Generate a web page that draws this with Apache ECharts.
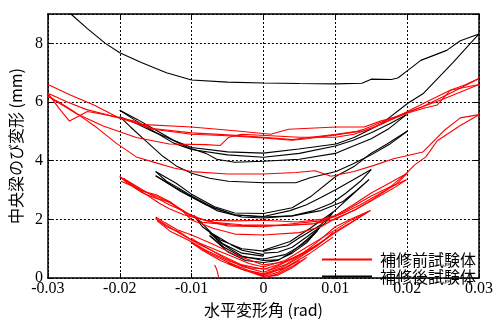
<!DOCTYPE html>
<html>
<head>
<meta charset="utf-8">
<script src="https://cdn.jsdelivr.net/npm/echarts@6/dist/echarts.min.js"></script>
<style>
  html, body { margin: 0; padding: 0; background: #fff; }
  #main { width: 496px; height: 323px; }
</style>
</head>
<body>
<div id="main"></div>
<script>
// x: 水平変形角 (rad), y: 中央梁のび変形 (mm)
var xTicks = [-0.03, -0.02, -0.01, 0, 0.01, 0.02, 0.03];
var yTicks = [0, 2, 4, 6, 8];

// 補修後試験体 (black)
var b30 = [[-0.0275,9.2],[-0.0268,9.0],[-0.0245,8.5],[-0.022,8.0],[-0.02,7.68],[-0.017,7.35],[-0.0135,7.0],[-0.01,6.75],[-0.005,6.68],[0,6.65],[0.005,6.63],[0.01,6.62],[0.0137,6.64],[0.015,6.78],[0.0178,6.77],[0.0187,6.82],[0.02,7.06],[0.0219,7.42],[0.0255,7.76],[0.0274,8.09],[0.03,8.32],[0.0264,7.35],[0.0223,6.3],[0.0201,5.96],[0.0163,5.24],[0.0126,4.79],[0.0101,4.57],[0.0049,4.4],[0,4.26],[-0.005,4.3],[-0.01,4.45],[-0.0125,4.7],[-0.015,5.05],[-0.0175,5.4],[-0.02,5.72]];
var b20a = [[-0.02,5.72],[-0.018,5.4],[-0.0154,5.02],[-0.0125,4.6],[-0.01,4.38],[-0.005,4.2],[0,4.12],[0.005,4.25],[0.01,4.5],[0.0125,4.7],[0.015,4.95],[0.0175,5.25],[0.0199,5.57]];
var b20b = [[0.0199,5.57],[0.0175,5.1],[0.015,4.75],[0.012,4.45],[0.01,4.25],[0.005,4.05],[0,3.98],[-0.004,3.95],[-0.0065,4.05],[-0.008,4.25],[-0.0105,4.45],[-0.0135,4.8],[-0.0154,5.0],[-0.018,5.3],[-0.02,5.5]];
var b20c = [[-0.02,5.5],[-0.0185,5.15],[-0.0165,4.7],[-0.014,4.15],[-0.012,3.8],[-0.01,3.57],[-0.0075,3.4],[-0.0049,3.3],[0,3.25],[0.0045,3.25],[0.0065,3.42],[0.0101,3.63],[0.0125,3.9],[0.015,4.2],[0.0175,4.55],[0.0201,5.02]];
var b20d = [[0.0201,5.02],[0.0172,4.57],[0.0149,4.24],[0.0126,3.8],[0.0101,3.47],[0.0067,2.8],[0.004,2.4],[0,2.2],[-0.004,2.22],[-0.0068,2.43],[-0.01,2.86],[-0.0122,3.24],[-0.015,3.63]];
var b15a = [[-0.015,3.63],[-0.0135,3.3],[-0.012,3.1],[-0.01,2.8],[-0.0068,2.38],[-0.004,2.16],[0,2.1],[0.0037,2.3],[0.006,2.5],[0.008,2.75],[0.0101,3.02],[0.0125,3.35],[0.015,3.7]];
var b15b = [[0.015,3.7],[0.0135,3.3],[0.0115,2.9],[0.0095,2.55],[0.007,2.3],[0.004,2.12],[0,2.05],[-0.003,2.08],[-0.0065,2.3],[-0.0095,2.7],[-0.012,3.05],[-0.015,3.49]];
var b15c = [[0,0.95],[0.0037,1.25],[0.0065,1.7],[0.0097,2.25],[0.0122,2.8],[0.0147,3.36],[0.013,3.0],[0.011,2.6],[0.008,2.3],[0.004,2.12],[0,2.08],[-0.004,2.15],[-0.008,2.5],[-0.0115,2.95],[-0.015,3.49]];
var b10 = [[0,0.8],[-0.003,0.95],[-0.0045,1.14],[-0.0072,1.53],[-0.0097,2.14],[-0.0085,1.75],[-0.006,1.3],[-0.003,1.0],[0,0.92],[0.0033,1.1],[0.0049,1.36],[0.0079,1.8],[0.0097,2.25],[0.0085,1.85],[0.006,1.4],[0.004,1.05],[0.002,0.88],[0,0.85]];
var b075 = [[0,0.75],[-0.003,0.85],[-0.0055,1.15],[-0.0075,1.54],[-0.006,1.2],[-0.003,0.75],[0,0.6],[0.002,0.62],[0.004,0.85],[0.006,1.2],[0.0078,1.7],[0.006,1.3],[0.004,0.9],[0.002,0.6],[0,0.53],[-0.0025,0.6],[-0.005,0.9],[-0.0075,1.45]];
var b05 = [[-0.0075,1.45],[-0.0055,1.05],[-0.003,0.72],[0,0.65],[0.003,0.8],[0.0055,1.15],[0.0075,1.6]];

// 補修前試験体 (red)
var r30a = [[-0.03,6.6],[-0.0268,6.23],[-0.0236,5.9],[-0.02,5.45],[-0.0172,5.24],[-0.01,5.15],[-0.004,5.02],[0.001,4.9],[0.0035,5.07],[0.0101,5.15],[0.014,5.15],[0.0163,5.35],[0.0186,5.51],[0.0222,5.85],[0.026,6.3],[0.03,6.8]];
var r30b = [[0.03,6.8],[0.028,6.58],[0.026,6.4],[0.0235,6.1],[0.021,5.8],[0.0186,5.5],[0.0165,5.25],[0.014,5.02],[0.0101,4.88],[0.006,4.75],[0.004,4.7],[0,4.78],[-0.005,4.85],[-0.01,4.9],[-0.0154,5.07],[-0.019,5.4],[-0.022,5.57],[-0.0245,5.68],[-0.027,5.35],[-0.0285,5.8],[-0.03,6.3]];
var r30c = [[-0.03,6.3],[-0.0273,6.0],[-0.0247,5.75],[-0.0215,5.55],[-0.018,5.35],[-0.0154,5.1],[-0.01,4.95],[-0.005,4.88],[0,4.8],[0.004,4.72],[0.0101,4.9],[0.013,5.0],[0.014,5.07],[0.0163,5.3],[0.02,5.65],[0.0245,6.05],[0.026,6.2],[0.03,6.6]];
var r30d = [[0.03,6.6],[0.026,6.4],[0.0242,5.9],[0.0223,5.79],[0.02,5.62],[0.0173,5.35],[0.015,5.1],[0.0126,4.9],[0.01,4.8],[0.005,4.8],[0.001,4.85],[-0.0031,4.9],[-0.0049,4.79],[-0.006,4.52],[-0.008,4.55],[-0.0131,4.57],[-0.0177,4.79],[-0.0223,5.18],[-0.026,5.6],[-0.03,6.2]];
var r30e = [[-0.03,6.2],[-0.0285,6.0],[-0.0268,5.75],[-0.0232,5.13],[-0.0205,4.6],[-0.0177,4.13],[-0.0154,3.96],[-0.0125,3.75],[-0.01,3.63],[-0.005,3.55],[0,3.55],[0.0045,3.6],[0.0072,3.66],[0.0094,3.47],[0.0126,3.63],[0.0155,3.85],[0.0181,4.07],[0.0222,4.3],[0.0251,5.02],[0.0274,5.46],[0.03,5.57]];
var r30f = [[0.03,5.57],[0.0274,5.2],[0.0242,4.68],[0.0226,4.13],[0.021,3.85],[0.0199,3.57],[0.0173,3.03],[0.015,2.65],[0.0125,2.3],[0.01,2.0],[0.007,1.85],[0.004,1.8],[0,1.78],[-0.004,1.8],[-0.0085,1.9],[-0.0113,2.3],[-0.013,2.6],[-0.015,2.85],[-0.0168,2.95],[-0.02,3.46]];
var r20a = [[-0.02,3.46],[-0.019,3.25],[-0.0168,2.9],[-0.015,2.72],[-0.0131,2.6],[-0.012,2.4],[-0.01,2.1],[-0.007,1.9],[-0.003,1.82],[0.003,1.8],[0.007,1.85],[0.01,2.1],[0.0125,2.45],[0.015,2.8],[0.0175,3.1],[0.0199,3.35]];
var r20b = [[0.0199,3.35],[0.018,3.05],[0.0155,2.7],[0.013,2.35],[0.0101,2.05],[0.008,1.75],[0.005,1.55],[0,1.47],[-0.004,1.5],[-0.007,1.7],[-0.01,1.98],[-0.0113,2.3],[-0.0131,2.5],[-0.015,2.75],[-0.0168,3.0],[-0.0195,3.4]];
var r20c = [[-0.0195,3.4],[-0.018,3.1],[-0.016,2.8],[-0.0145,2.55],[-0.0131,2.36],[-0.011,2.15],[-0.008,1.97],[-0.004,1.95],[0,1.97],[0.0047,1.91],[0.008,2.0],[0.0101,2.14],[0.0125,2.5],[0.015,2.9],[0.018,3.3],[0.02,3.57]];
var r20d = [[0.02,3.57],[0.0185,3.2],[0.016,2.85],[0.0135,2.5],[0.011,2.2],[0.008,1.95],[0.004,1.85],[0,1.75],[-0.005,1.78],[-0.0085,2.0],[-0.0105,2.2],[-0.0125,2.5],[-0.0145,2.75],[-0.017,3.0],[-0.0198,3.3]];
var r15a = [[-0.015,2.08],[-0.0138,1.9],[-0.012,1.65],[-0.01,1.47],[-0.007,1.15],[-0.004,0.8],[0,0.45],[0.003,0.55],[0.0055,0.85],[0.0076,1.25],[0.01,1.75],[0.0125,2.05],[0.0149,2.3]];
var r15b = [[0.0149,2.3],[0.0125,1.95],[0.0101,1.6],[0.008,1.2],[0.005,0.8],[0.002,0.45],[0,0.3],[-0.003,0.45],[-0.006,0.8],[-0.009,1.15],[-0.0115,1.5],[-0.0135,1.8],[-0.015,2.03]];
var r15c = [[-0.015,2.03],[-0.0135,1.75],[-0.0115,1.55],[-0.01,1.3],[-0.0075,1.05],[-0.0045,0.75],[-0.002,0.5],[0,0.38],[0.003,0.6],[0.006,1.05],[0.0097,1.6],[0.012,1.95],[0.0145,2.25]];
var r15d = [[0.0145,2.25],[0.012,1.85],[0.0097,1.5],[0.007,1.05],[0.004,0.65],[0.001,0.3],[-0.002,0.35],[-0.005,0.6],[-0.008,0.95],[-0.0105,1.3],[-0.013,1.6],[-0.0148,1.95]];
var r10a = [[-0.01,1.35],[-0.008,1.05],[-0.0055,0.7],[-0.003,0.4],[0,0.2],[0.003,0.45],[0.006,0.9],[0.0085,1.3],[0.0097,1.55]];
var r10b = [[0.0097,1.55],[0.0075,1.1],[0.005,0.7],[0.0025,0.35],[0,0.15],[-0.003,0.3],[-0.006,0.6],[-0.0085,0.95],[-0.01,1.2]];
var r10c = [[-0.01,1.2],[-0.0075,0.85],[-0.005,0.55],[-0.002,0.25],[0,0.12],[0.003,0.35],[0.0065,0.85],[0.0097,1.4]];
var r05 = [[-0.005,0.55],[-0.003,0.3],[0,0.05],[0.002,0.2],[0.005,0.6],[0.003,0.35],[0,0.1],[-0.0025,0.25],[-0.005,0.5]];
var r00 = [[0,0],[0.002,0.15],[0.004,0.4],[0.006,0.7],[0.004,0.35],[0.002,0.1],[0,0.02]];
var rSpike = [[-0.0068,0.45],[-0.0065,0.3],[-0.0062,0.0]];

var blackLoops = [b30, b20a, b20b, b20c, b20d, b15a, b15b, b15c, b10, b075, b05];
var redLoops = [r30a, r30b, r30c, r30d, r30e, r30f, r20a, r20b, r20c, r20d, r15a, r15b, r15c, r15d, r10a, r10b, r10c, r05, r00, rSpike];

var nameBefore = '補修前試験体';
var nameAfter = '補修後試験体';

function loopSeries(loops, name, color) {
    return loops.map(function (d) {
        return {
            name: name,
            type: 'line',
            data: d,
            symbol: 'none',
            silent: true,
            lineStyle: { color: color, width: 1.1 },
            itemStyle: { color: color }
        };
    });
}

var chart = echarts.init(document.getElementById('main'));
var tickFont = { fontFamily: '"Liberation Serif", serif', fontSize: 16, color: '#000' };
var dotted = { color: '#000', width: 1, type: [2, 2] };
var frame = { color: '#000', width: 1.5 };
var tickIn = { show: true, inside: true, length: 5, lineStyle: { color: '#000' } };

var option = {
    backgroundColor: '#fff',
    animation: false,
    grid: { left: 43, right: 14, top: 14, bottom: 39 },
    legend: {
        data: [
            { name: nameBefore, icon: 'rect', itemStyle: { color: '#ff0000' } },
            { name: nameAfter, icon: 'rect', itemStyle: { color: '#000000' } }
        ],
        orient: 'vertical',
        left: 322,
        top: 251,
        padding: 0,
        itemWidth: 50,
        itemHeight: 2,
        itemGap: 0,
        textStyle: { fontFamily: 'Noto Sans CJK JP', fontSize: 16, lineHeight: 17, color: '#000', padding: [0, 0, 0, 3] }
    },
    xAxis: [{
        type: 'value',
        min: xTicks[0],
        max: xTicks[xTicks.length - 1],
        interval: 0.01,
        name: '水平変形角 (rad)',
        nameLocation: 'middle',
        nameGap: 20,
        nameTextStyle: { fontFamily: 'Noto Sans CJK JP', fontSize: 16, color: '#000', verticalAlign: 'top' },
        axisLine: { show: true, onZero: false, lineStyle: frame },
        axisTick: tickIn,
        axisLabel: Object.assign({ margin: 3 }, tickFont),
        splitLine: { show: true, lineStyle: dotted }
    }, {
        type: 'value',
        position: 'top',
        min: xTicks[0],
        max: xTicks[xTicks.length - 1],
        interval: 0.01,
        axisLine: { show: true, onZero: false, lineStyle: frame },
        axisTick: tickIn,
        axisLabel: { show: false },
        splitLine: { show: false }
    }],
    yAxis: [{
        type: 'value',
        min: yTicks[0],
        max: 9,
        interval: 2,
        name: '中央梁のび変形 (mm)',
        nameLocation: 'middle',
        nameRotate: 90,
        nameGap: 21,
        nameTextStyle: { fontFamily: 'Noto Sans CJK JP', fontSize: 16, color: '#000' },
        axisLine: { show: true, onZero: false, lineStyle: frame },
        axisTick: tickIn,
        axisLabel: Object.assign({ margin: 5, showMaxLabel: false }, tickFont),
        splitLine: { show: true, lineStyle: dotted }
    }, {
        type: 'value',
        position: 'right',
        min: yTicks[0],
        max: 9,
        interval: 2,
        axisLine: { show: true, onZero: false, lineStyle: frame },
        axisTick: tickIn,
        axisLabel: { show: false },
        splitLine: { show: false }
    }],
    series: loopSeries(blackLoops, nameAfter, '#000000').concat(loopSeries(redLoops, nameBefore, '#ff0000'))
};

chart.setOption(option);
</script>
</body>
</html>
